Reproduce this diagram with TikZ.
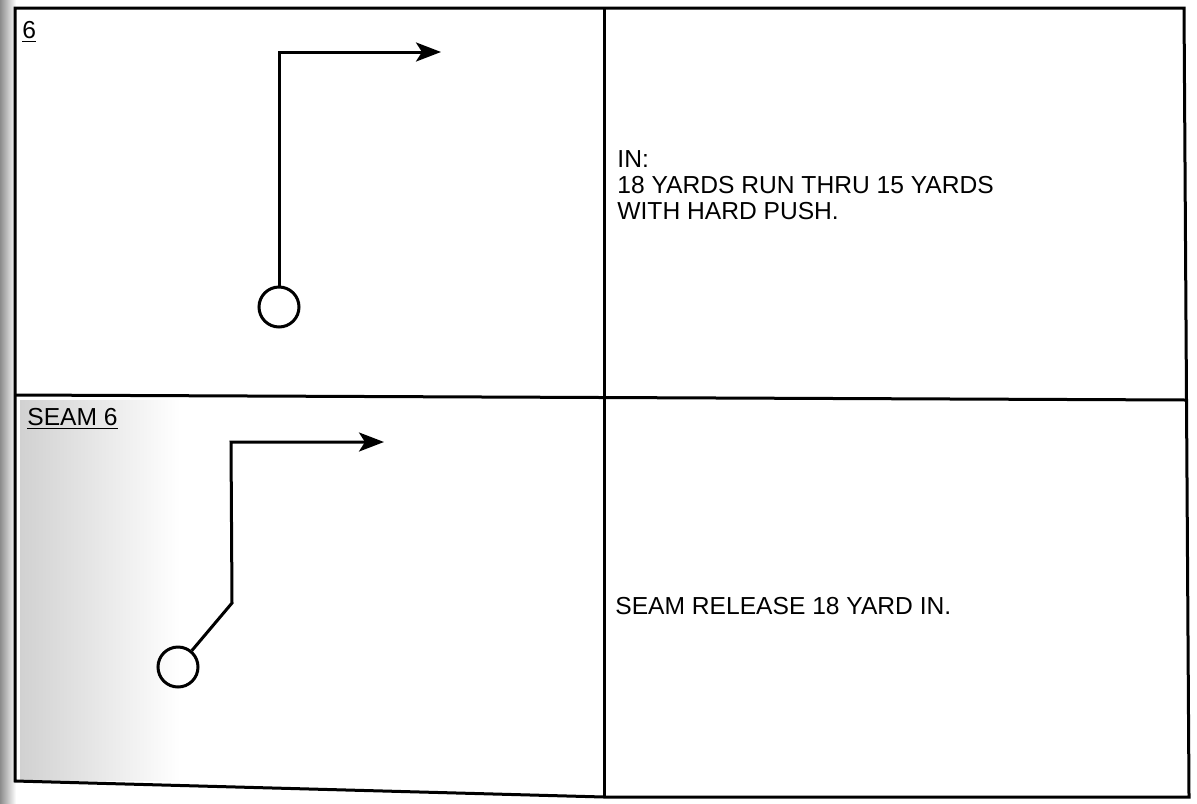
\documentclass[tikz,border=0pt]{standalone}
\usepackage{fontspec}
\setmainfont{Liberation Sans}
\usetikzlibrary{arrows.meta}
\begin{document}
\begin{tikzpicture}[x=0.5pt,y=-0.5pt,
    grid/.style={line width=1.5pt,black},
    route/.style={line width=1.5pt,black,-{Stealth[length=12.5pt,width=9.5pt,inset=3pt]}},
    player/.style={draw,circle,line width=1.5pt,minimum size=20pt,inner sep=0pt},
    cell/.style={font=\fontsize{12.3}{13}\selectfont,inner sep=0pt,align=left}]
  \useasboundingbox (0,0) rectangle (1197,803);
  % scan shadow on the left edge
  \shade[left color=black!45,right color=white] (0,0) rectangle (16,803);
  \shade[left color=black!18,right color=white] (20,400) rectangle (180,780);
  % table frame
  \draw[grid] (15,8) -- (1184,8) -- (1189,797) -- (604,797) -- (15,781) -- cycle;
  \draw[grid] (15,395) -- (1186,400);
  \draw[grid] (604,8) -- (604,797);
  % row 6
  \node[cell,anchor=base west] (lab1) at (22,38) {\underline{6}};
  \node[player] (p1) at (279,307) {};
  \coordinate (b1) at (279,52);
  \coordinate (t1) at (441,52);
  \draw[route] (p1) -- (b1) -- (t1);
  \node[cell,anchor=base west] (txt1) at (617,219) {IN:\\18 YARDS RUN THRU 15 YARDS\\WITH HARD PUSH.};
  % row seam 6
  \node[cell,anchor=base west] (lab2) at (27,425) {\underline{SEAM 6}};
  \node[player] (p2) at (178,667) {};
  \coordinate (k2) at (232,603);
  \coordinate (b2) at (231,442);
  \coordinate (t2) at (384,442);
  \draw[route] (p2) -- (k2) -- (b2) -- (t2);
  \node[cell,anchor=base west] (txt2) at (615,614) {SEAM RELEASE 18 YARD IN.};
\end{tikzpicture}
\end{document}
